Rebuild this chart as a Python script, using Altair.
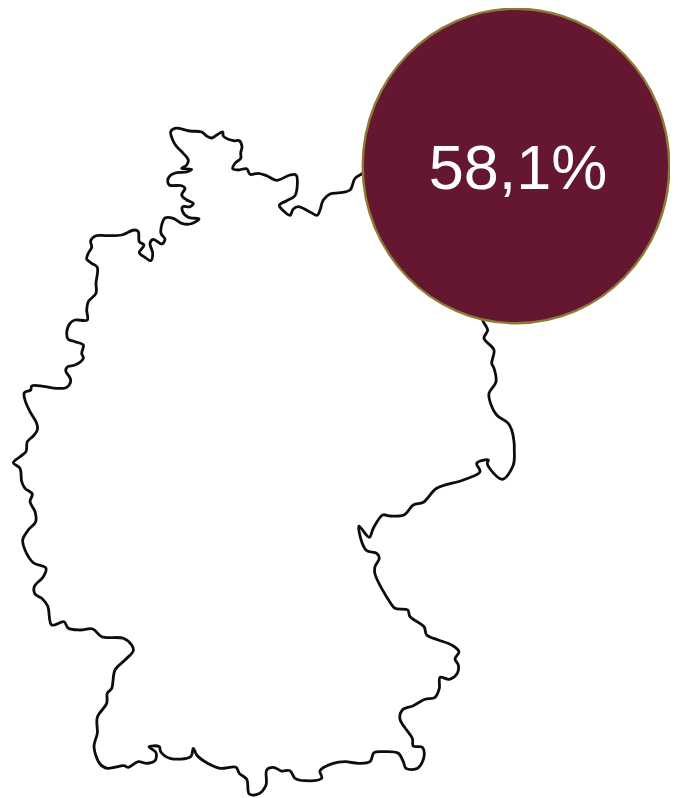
import altair as alt
import pandas as pd

# Outline of the map (x to the right, y downward, picture pixels)
outline_x = [366,361.7,355,350,340,330,323.3,320,317.3,310,298.3,293.3,290,283.3,279.3,286.7,294.7,297.3,296,290,276.7,266.7,258.3,250,246.7,238.3,232.7,235,240.7,240.7,242,239.3,233.3,223.3,222.7,216.7,211.7,206.7,201.7,190,175,170.7,172.7,176.7,183.3,188.3,186.7,181.7,191.7,186.7,176.7,170,167.7,169.3,181.7,185,181.7,186.7,193.3,190,182.7,182.7,188.3,199,190,181.7,173.3,165,161.7,161,165,161.7,153.3,150,152.7,150.7,145,139.3,144,139.3,138.3,134.3,121.7,106.7,96,90.7,91.7,88.3,86.7,91.7,97.3,96,96,88.3,86.7,87.3,75,70,66.7,68.3,75,83.3,81.7,83.3,75,67.7,65.7,70.7,66.7,56.7,43.3,31.7,30.7,24.3,25,30,36.7,37.3,33.3,27.3,26,20,13.3,20,21.7,25,32.3,30,35,35.7,28.3,22.7,25,33.3,46,43.3,34.3,35,41.7,47.7,51.7,64,68.3,80,92.7,101.7,123.3,131.7,133.3,125,115,111.7,107.3,106.7,97.3,97.3,94,100,107.3,124,128.3,138.3,146.7,155,156,149,159.3,160.7,170,190.7,193.3,196.7,206.7,220,236,239.3,246.7,249.3,258.3,266,266.7,273.3,281.7,290,295,305,321.7,320,333.3,345,358.3,370,374,383.3,398.3,403.3,406,417.7,424,422.3,413.3,412.3,400,402.3,413.3,425,435,439.3,440,449.3,457.3,458.3,455,459,451.7,438.3,426.7,424,410,407.7,395,390,375,375,379.3,376.7,366.7,361.7,359,369.3,373.3,382.7,390,404,413.3,423.3,436.7,463.3,480,476.7,488.3,487.3,502.3,513.3,514.3,514,511.7,508.3,496.7,490,489,496,494,491.7,494,484,487.7,483.3,481]
outline_y = [171,174,178.3,190,192.7,194,200,210,215.3,212,206.7,209,215.3,210.7,205.3,200.7,196,185,175,175,180.3,175.7,173.3,174.3,168.7,170,168.7,163.3,158.3,152.7,146.7,140.7,140.7,136,132,135,138,136,132,131,128.3,131.7,140,146.7,153.3,160,165,168.3,169.3,172,172.7,175.7,180.7,185,185.7,188.3,195,200,203.3,206.7,206.7,211.7,217.3,219,224,223.3,218.3,218,225,233.3,239.3,244,239.3,243.3,253.3,260.7,257.3,252.7,245,241.7,231.7,230,235,235.7,235.7,240.7,247.3,253.3,259,263.3,267.3,283.3,293.3,301.7,310,320,320,323.3,332.7,339.3,341.7,345,353.3,358.3,365,366.7,370.7,380,387.3,388.3,386.3,386,390,392.7,400,411.7,423.3,430,436,441.7,451.7,456.7,462.7,468.3,481.7,488.3,494,501.7,511.7,521.7,530,540,550,562.7,568.3,576.7,586.7,594,598.3,606,625,621.7,628.3,630,629,636.7,638.3,645,650.7,660,670,688.3,693.3,703.3,717.3,733.3,746.7,764,768.3,765.7,767.3,761.7,763.3,760.7,752.7,746.7,746.7,751.7,758.3,756.7,748.3,755,762.7,768.3,767.3,773.3,779.3,794,794,785,770,767.3,771,770.7,778.3,780.7,778.3,770.7,763.3,761.7,763.3,761.7,752.7,751.7,753.3,761.7,768.3,768.3,756.7,747.3,746,738.3,719.3,710,705.7,699.3,697.3,688.3,677.3,679.3,673.3,665,659,651.7,645,640,635,626.7,616.7,610,608.3,602.3,574,566.7,558.3,553.3,550.7,541.7,526,537.3,528.3,515,516,515,505,502.3,488.3,480,471.7,463.3,460,464,479.3,465,450,441.7,430,423.3,415,401.7,393.3,381.7,368.3,363.3,350,338.3,330,321.7,315]

badge_x = [516]
badge_y = [166]
label_x = [518]
label_y = [189]
labels = ["58,1%"]

x_scale = alt.Scale(domain=[8, 670], nice=False, zero=False)
y_scale = alt.Scale(domain=[798, 8], nice=False, zero=False)

outline = pd.DataFrame({"px": outline_x, "py": outline_y, "i": range(len(outline_x))})
badge = pd.DataFrame({"px": badge_x, "py": badge_y})
label = pd.DataFrame({"px": label_x, "py": label_y, "t": labels})

line = alt.Chart(outline).mark_line(
    color="#0d0d0d", strokeWidth=2.8, interpolate="catmull-rom", strokeJoin="round", clip=False
).encode(
    x=alt.X("px:Q", scale=x_scale, axis=None),
    y=alt.Y("py:Q", scale=y_scale, axis=None),
    order="i:Q",
)

circle = alt.Chart(badge).mark_point(
    shape="M-1,0A1,1.026 0 1,1 1,0A1,1.026 0 1,1 -1,0Z",
    filled=True, size=94000, fill="#651731", fillOpacity=1,
    stroke="#8d7a36", strokeWidth=2.4, strokeOpacity=1, opacity=1,
).encode(
    x=alt.X("px:Q", scale=x_scale, axis=None),
    y=alt.Y("py:Q", scale=y_scale, axis=None),
)

text = alt.Chart(label).mark_text(
    font="Liberation Sans", fontSize=63, color="#ffffff", align="center", baseline="alphabetic",
).encode(
    x=alt.X("px:Q", scale=x_scale, axis=None),
    y=alt.Y("py:Q", scale=y_scale, axis=None),
    text="t:N",
)

chart = (line + circle + text).properties(
    width=662, height=790, padding=0, background="#ffffff",
    autosize=alt.AutoSizeParams(type="none"),
).configure_view(stroke=None)

chart.save("out.html", embed_options={"renderer": "svg", "actions": False})
